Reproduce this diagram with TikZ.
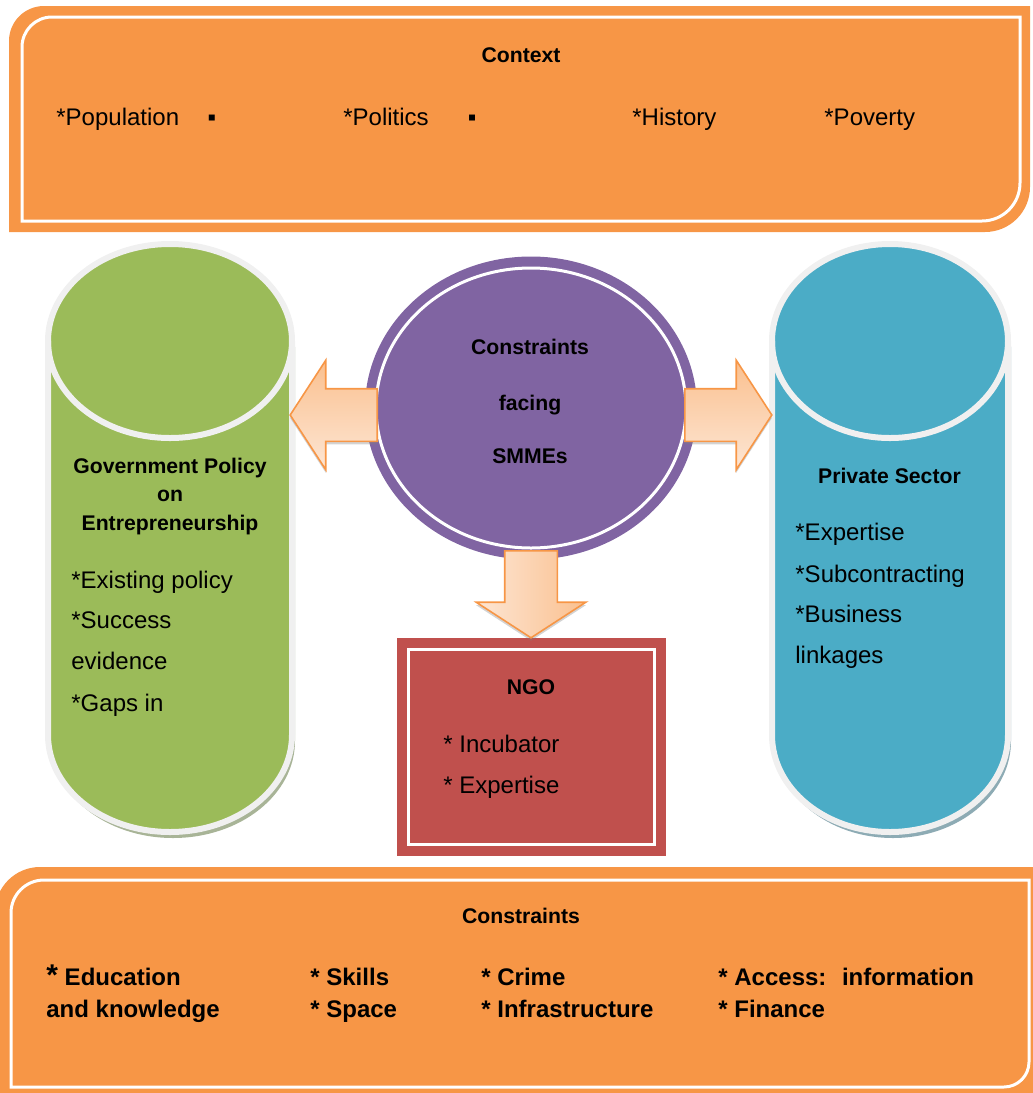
\documentclass[tikz,border=0pt]{standalone}
\usepackage{fontspec}
\setmainfont{Liberation Sans}
\usepackage{tikz}
\usetikzlibrary{shapes.geometric,shapes.arrows,shadows}
\usetikzlibrary{positioning,calc}
\definecolor{boxorange}{RGB}{247,150,70}
\definecolor{govgreen}{RGB}{155,187,89}
\definecolor{privblue}{RGB}{75,172,198}
\definecolor{smmepurple}{RGB}{128,100,162}
\definecolor{ngored}{RGB}{192,80,77}
\definecolor{rimgray}{RGB}{240,240,240}
\definecolor{govshadow}{RGB}{168,180,151}
\definecolor{privshadow}{RGB}{141,171,180}
\definecolor{arrowdark}{RGB}{250,192,143}
\definecolor{arrowlight}{RGB}{253,230,212}
\tikzstyle{pillar}=[draw=rimgray,line width=3pt]
\tikzstyle{Cstate}=[shape=ellipse,fill=smmepurple,minimum width=166pt,minimum height=151.5pt,inner sep=0pt]
\tikzstyle{Bstate}=[shape=rectangle,fill=ngored,minimum width=134.5pt,minimum height=109pt,inner sep=0pt]
\tikzstyle{fatarrow}=[shape=single arrow,draw=boxorange,line width=0.8pt,inner sep=12.75pt,minimum height=43.5pt,single arrow head extend=14.25pt,single arrow tip angle=114,drop shadow={opacity=0.35,shadow xshift=0pt,shadow yshift=-1.5pt}]
\tikzstyle{headtext}=[font=\fontsize{10.6}{13}\selectfont\bfseries,inner sep=0pt,anchor=base]
\tikzstyle{itemtext}=[font=\fontsize{12}{14}\selectfont,inner sep=0pt,anchor=base west]
\tikzstyle{boldtext}=[font=\fontsize{12}{14}\selectfont\bfseries,inner sep=0pt,anchor=base west]
\begin{document}
\begin{tikzpicture}[x=0.5pt,y=-0.5pt]

\useasboundingbox (0,0) rectangle (1033,1093);
\clip (0,0) rectangle (1033,1093);

% context box
\fill[boxorange] (9,232) -- (9,41) arc[start angle=180,end angle=270,radius=35] -- (1030,6) -- (1030,187) arc[start angle=0,end angle=90,radius=45] -- cycle;
\draw[white,line width=1.5pt] (22,221) -- (22,47) arc[start angle=180,end angle=270,radius=30] -- (1020,17) -- (1020,183) arc[start angle=0,end angle=90,radius=38] -- cycle;

% constraints box
\fill[boxorange] (-5,1100) -- (-5,912) arc[start angle=180,end angle=270,radius=45] -- (1040,867) -- (1040,1100) -- cycle;
\draw[white,line width=1.5pt] (11,1087) -- (11,913) arc[start angle=180,end angle=270,radius=33] -- (1029,880) -- (1029,1062) arc[start angle=0,end angle=90,radius=25] -- cycle;

% government pillar
\filldraw[pillar,fill=govgreen,drop shadow={fill=govshadow,opacity=1,shadow xshift=1.5pt,shadow yshift=-3pt}] (48,341) -- (48,735) arc[start angle=180,end angle=0,x radius=122,y radius=97] -- (292,341) arc[start angle=0,end angle=-180,x radius=122,y radius=97] -- cycle;
\draw[pillar] (48,341) arc[start angle=180,end angle=0,x radius=122,y radius=97];

% private pillar
\filldraw[pillar,fill=privblue,drop shadow={fill=privshadow,opacity=1,shadow xshift=1.5pt,shadow yshift=-3pt}] (772,341) -- (772,735) arc[start angle=180,end angle=0,x radius=118,y radius=97] -- (1008,341) arc[start angle=0,end angle=-180,x radius=118,y radius=97] -- cycle;
\draw[pillar] (772,341) arc[start angle=180,end angle=0,x radius=118,y radius=97];

\node[Cstate] (SMME) at (531,408) {};
\draw[white,line width=1.5pt] (SMME.center) ellipse [x radius=155,y radius=140];

\node[Bstate] (NGO) at (531.5,747) {};
\draw[white,line width=1.5pt] ([shift={(12,12)}]NGO.north west) rectangle ([shift={(-12,-12)}]NGO.south east);

\node[fatarrow,top color=arrowdark,bottom color=arrowlight,shape border rotate=180,anchor=tail] (TOGOV) at (378,415) {};
\node[fatarrow,top color=arrowdark,bottom color=arrowlight,anchor=tail] (TOPRIV) at (684,415) {};
\node[fatarrow,left color=arrowlight,right color=arrowdark,shape border rotate=270,anchor=tail] (TONGO) at (531,550) {};

% context texts
\node[headtext] (CTX) at (521,62) {Context};
\node[itemtext] (POP) at (56,125) {*Population};
\node[itemtext,anchor=base] (DOT1) at (212,125) {▪};
\node[itemtext] (POL) at (343,125) {*Politics};
\node[itemtext,anchor=base] (DOT2) at (472,125) {▪};
\node[itemtext] (HIS) at (632,125) {*History};
\node[itemtext] (POV) at (824,125) {*Poverty};

% centre texts
\node[headtext] (C1) at (530,354) {Constraints};
\node[headtext] (C2) at (530,410) {facing};
\node[headtext] (C3) at (530,463) {SMMEs};

% government texts
\node[headtext] (G1) at (170,473) {Government Policy};
\node[headtext] (G2) at (170,501) {on};
\node[headtext] (G3) at (170,530) {Entrepreneurship};
\node[itemtext] (G4) at (71,588) {*Existing policy};
\node[itemtext] (G5) at (71,628) {*Success};
\node[itemtext] (G6) at (71,669) {evidence};
\node[itemtext] (G7) at (71,711) {*Gaps in};

% private texts
\node[headtext] (P1) at (889.5,483) {Private Sector};
\node[itemtext] (P2) at (795,540) {*Expertise};
\node[itemtext] (P3) at (795,582) {*Subcontracting};
\node[itemtext] (P4) at (795,622) {*Business};
\node[itemtext] (P5) at (795,663) {linkages};

% ngo texts
\node[headtext] (N1) at (531,694) {NGO};
\node[itemtext] (N2) at (443,752) {* Incubator};
\node[itemtext] (N3) at (443,793) {* Expertise};

% constraints texts
\node[headtext] (K0) at (521,923) {Constraints};
\node[boldtext] (K1) at (46,985) {{\fontsize{15}{15}\selectfont *} Education};
\node[boldtext] (K2) at (46,1017) {and knowledge};
\node[boldtext] (K3) at (310,985) {* Skills};
\node[boldtext] (K4) at (310,1017) {* Space};
\node[boldtext] (K5) at (481,985) {* Crime};
\node[boldtext] (K6) at (481,1017) {* Infrastructure};
\node[boldtext] (K7) at (718,985) {* Access:~ information};
\node[boldtext] (K8) at (718,1017) {* Finance};

\end{tikzpicture}
\end{document}
